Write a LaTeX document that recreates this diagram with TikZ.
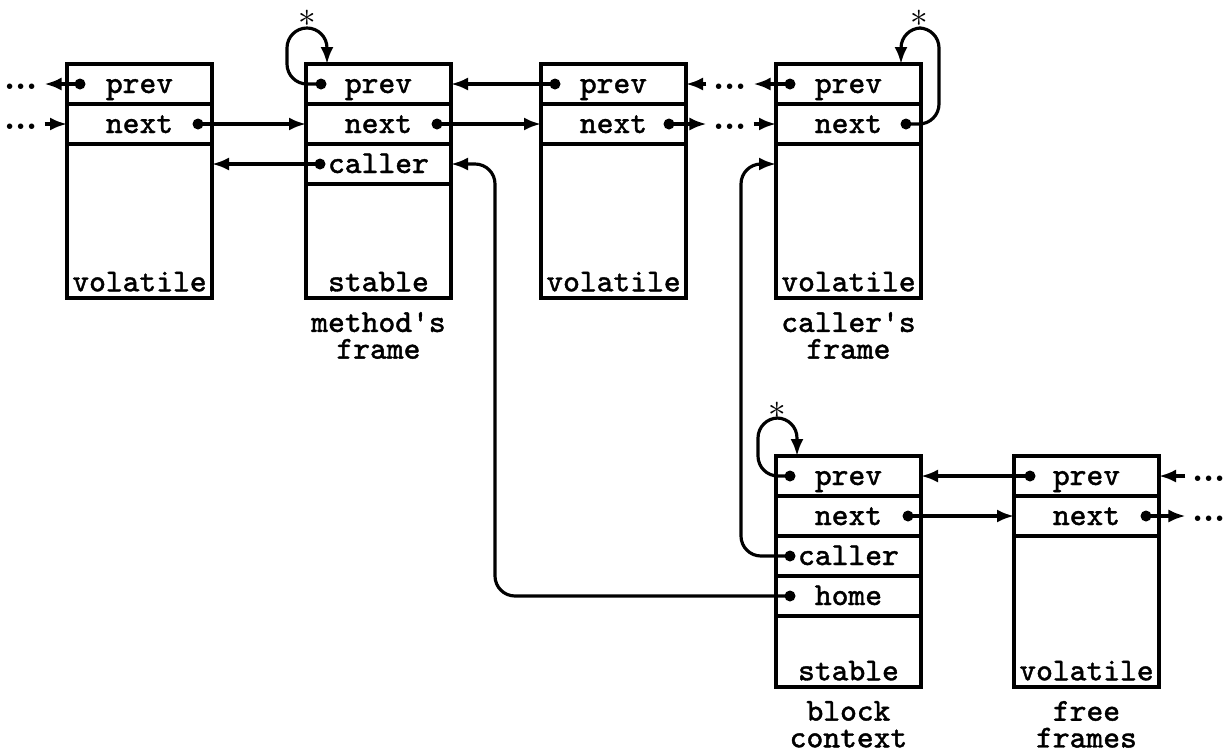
\documentclass[tikz,border=0pt]{standalone}
\usepackage{fontspec}
\newfontfamily\framett{Latin Modern Mono}[FakeBold=1.2]
\usetikzlibrary{positioning,arrows.meta}
\newcommand{\framefont}{\fontsize{9.1}{7.6}\selectfont\framett}
\tikzset{
  field/.style={draw, line width=1pt, minimum width=1.45cm, minimum height=0.4cm,
    inner sep=0pt, outer sep=0pt, text height=0.2cm, text depth=0.02cm, font=\framefont},
  body/.style={field, minimum height=#1},
  kind/.style={anchor=south, inner sep=1.7pt, text depth=0pt, font=\framefont},
  caption/.style={anchor=north, align=center, inner sep=3.8pt, font=\framefont},
  ptr/.style={-{Latex[length=1.7mm,width=1.3mm]}, line width=0.9pt},
  dot/.style={circle, fill, inner sep=0pt, minimum size=1.1mm},
  etc/.style={inner sep=0.6mm, text height=0.1cm, text depth=0pt, font=\fontsize{10}{10}\selectfont\bfseries},
  asterisk/.style={inner sep=0pt},
}
\begin{document}
\begin{tikzpicture}
\useasboundingbox (0,0) rectangle (12.24,-7.50);

% volatile frame on the left
\node[field, anchor=north west] (f1-prev) at (0.67,-0.64) {prev};
\node[field, below=0pt of f1-prev] (f1-next) {next};
\node[body=1.54cm, below=0pt of f1-next] (f1-body) {};
\node[kind] (f1-kind) at (f1-body.south) {volatile};

% method's frame
\node[field, anchor=north west] (f2-prev) at (3.06,-0.64) {prev};
\node[field, below=0pt of f2-prev] (f2-next) {next};
\node[field, below=0pt of f2-next] (f2-caller) {caller};
\node[body=1.14cm, below=0pt of f2-caller] (f2-body) {};
\node[kind] (f2-kind) at (f2-body.south) {stable};
\node[caption] (f2-cap) at (f2-body.south) {method's\\frame};

% volatile frame in the middle
\node[field, anchor=north west] (f3-prev) at (5.41,-0.64) {prev};
\node[field, below=0pt of f3-prev] (f3-next) {next};
\node[body=1.54cm, below=0pt of f3-next] (f3-body) {};
\node[kind] (f3-kind) at (f3-body.south) {volatile};

% caller's frame
\node[field, anchor=north west] (f4-prev) at (7.76,-0.64) {prev};
\node[field, below=0pt of f4-prev] (f4-next) {next};
\node[body=1.54cm, below=0pt of f4-next] (f4-body) {};
\node[kind] (f4-kind) at (f4-body.south) {volatile};
\node[caption] (f4-cap) at (f4-body.south) {caller's\\frame};

% block context
\node[field, anchor=north west] (blk-prev) at (7.76,-4.56) {prev};
\node[field, below=0pt of blk-prev] (blk-next) {next};
\node[field, below=0pt of blk-next] (blk-caller) {caller};
\node[field, below=0pt of blk-caller] (blk-home) {home};
\node[body=0.71cm, below=0pt of blk-home] (blk-body) {};
\node[kind] (blk-kind) at (blk-body.south) {stable};
\node[caption] (blk-cap) at (blk-body.south) {block\\context};

% free frames
\node[field, anchor=north west] (free-prev) at (10.14,-4.56) {prev};
\node[field, below=0pt of free-prev] (free-next) {next};
\node[body=1.51cm, below=0pt of free-next] (free-body) {};
\node[kind] (free-kind) at (free-body.south) {volatile};
\node[caption] (free-cap) at (free-body.south) {free\\frames};

% pointer dots
\node[dot] (d1p) at ([xshift=0.13cm]f1-prev.west) {};
\node[dot] (d1n) at ([xshift=-0.14cm]f1-next.east) {};
\node[dot] (d2p) at ([xshift=0.15cm]f2-prev.west) {};
\node[dot] (d2n) at ([xshift=-0.14cm]f2-next.east) {};
\node[dot] (d2c) at ([xshift=0.14cm]f2-caller.west) {};
\node[dot] (d3p) at ([xshift=0.14cm]f3-prev.west) {};
\node[dot] (d3n) at ([xshift=-0.17cm]f3-next.east) {};
\node[dot] (d4p) at ([xshift=0.14cm]f4-prev.west) {};
\node[dot] (d4n) at ([xshift=-0.15cm]f4-next.east) {};
\node[dot] (dbp) at ([xshift=0.14cm]blk-prev.west) {};
\node[dot] (dbn) at ([xshift=-0.13cm]blk-next.east) {};
\node[dot] (dbc) at ([xshift=0.14cm]blk-caller.west) {};
\node[dot] (dbh) at ([xshift=0.14cm]blk-home.west) {};
\node[dot] (dfp) at ([xshift=0.16cm]free-prev.west) {};
\node[dot] (dfn) at ([xshift=-0.13cm]free-next.east) {};

% where the chain goes on
\node[etc] (more1p) at (0.21,0 |- f1-prev) {...};
\node[etc] (more1n) at (0.21,0 |- f1-next) {...};
\node[etc] (more3p) at (7.30,0 |- f3-prev) {...};
\node[etc] (more3n) at (7.30,0 |- f3-next) {...};
\node[etc] (morefp) at (12.09,0 |- free-prev) {...};
\node[etc] (morefn) at (12.09,0 |- free-next) {...};

% self-pointing ends
\coordinate (f2-top) at ([xshift=0.21cm]f2-prev.north west);
\coordinate (f4-top) at ([xshift=-0.20cm]f4-prev.north east);
\coordinate (blk-top) at ([xshift=0.21cm]blk-prev.north west);
\node[asterisk] (f2-ast) at ([xshift=-0.2cm,yshift=0.46cm]f2-top) {$*$};
\node[asterisk] (f4-ast) at ([xshift=0.18cm,yshift=0.46cm]f4-top) {$*$};
\node[asterisk] (blk-ast) at ([xshift=-0.2cm,yshift=0.46cm]blk-top) {$*$};

% links
\draw[ptr] (d1p.center) -- (more1p.east);
\draw[ptr] (more1n.east) -- (f1-next.west);
\draw[ptr] (d1n.center) -- (f2-next.west);
\draw[ptr] (d2c.center) -- (d2c -| f1-body.east);
\draw[ptr, rounded corners=2mm] (d2p.center) -- ++(-0.34,0) |- ([yshift=0.36cm]f2-top) -- (f2-top);
\draw[ptr] (d3p.center) -- (f2-prev.east);
\draw[ptr] (d2n.center) -- (f3-next.west);
\draw[ptr] (more3p.west) -- (f3-prev.east);
\draw[ptr] (d3n.center) -- (more3n.west);
\draw[ptr] (d4p.center) -- (more3p.east);
\draw[ptr] (more3n.east) -- (f4-next.west);
\draw[ptr, rounded corners=2mm] (d4n.center) -- ++(0.33,0) |- ([yshift=0.36cm]f4-top) -- (f4-top);
\draw[ptr, rounded corners=2mm] (dbp.center) -- ++(-0.32,0) |- ([yshift=0.38cm]blk-top) -- (blk-top);
\draw[ptr, rounded corners=2mm] (dbc.center) -- ++(-0.49,0) |- (f2-caller.east -| f4-body.west);
\draw[ptr, rounded corners=2mm] (dbh.center) -- ++(-2.95,0) |- (f2-caller.east);
\draw[ptr] (dfp.center) -- (blk-prev.east);
\draw[ptr] (dbn.center) -- (free-next.west);
\draw[ptr] (morefp.west) -- (free-prev.east);
\draw[ptr] (dfn.center) -- (morefn.west);
\end{tikzpicture}
\end{document}
